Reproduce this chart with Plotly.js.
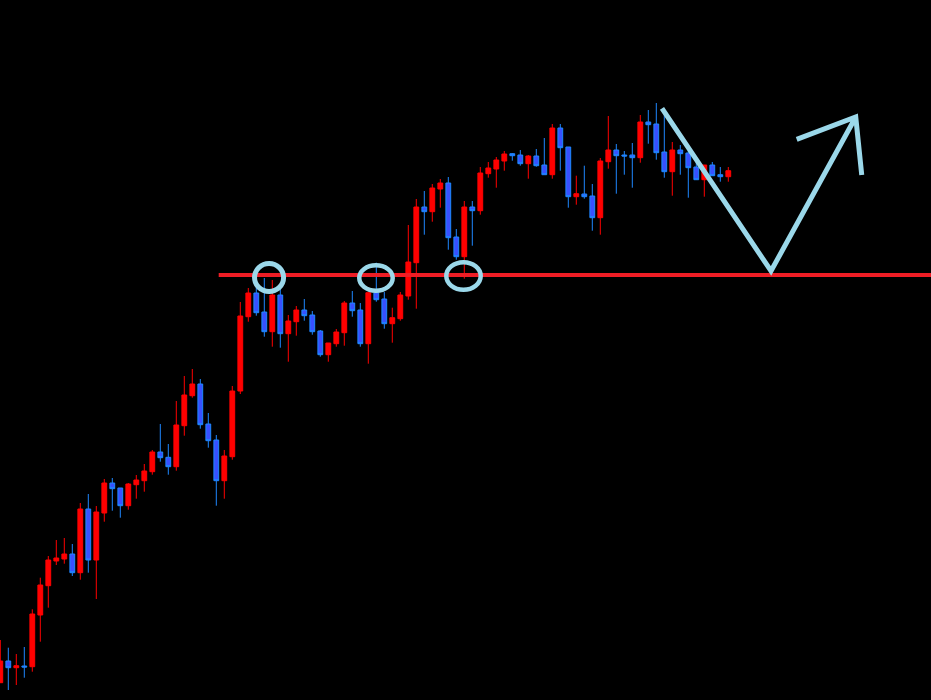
<!DOCTYPE html>
<html>
<head>
<meta charset="utf-8">
<script src="https://cdn.plot.ly/plotly-3.0.1.min.js"></script>
<style>html,body{margin:0;padding:0;background:#000;}#chart{width:931px;height:700px;}</style>
</head>
<body>
<div id="chart"></div>
<script>
// Bar index (one bar per period)
const bars = Array.from({length: 92}, (_, i) => i);
const open = [17.3,39,32.3,34,33.3,85,114.3,139,141,146,127.3,191,140,187,217,212,194.3,215.3,219.3,228.3,
  248,242.7,233.3,274.3,304.3,316,276,260,219.3,243.3,309,383.3,407,388,368.3,405,366.3,378.3,390,385,
  369,345.3,356.3,367.3,397,390,356.3,407.3,401,376.3,381.3,404,437.3,493,488.3,511,517,463,443.3,493,
  489.3,526.3,531,539,546.3,545,536.3,544,535,525.3,572,553,503.3,506,504,482.3,538.3,550,545,545,
  542.3,578,576,548,528.3,550,547,533,520.3,535,525.3,523.3];
const high = [60,52.3,46,53,90.7,122.3,144,160,162,156,197,206,194,221,222,212,217,225,236,250,
  276,256,299,324,331,321,287,265,250,314,398,412,417,422,420,411,385,394,401,389,
  370,357,371,399,409,397,408,437.3,408,392.3,408,475,501,509,516,521,523,471,499,499,
  533,538,543,549,547,550,545,551,562,576,576,553,524.3,534.3,516,542,584,556,549,557,
  585,590,597,585,558,555,549,538,535,538,533,533];
const low = [17,10,15,22.3,28.3,58.3,92.3,135,136.3,124,120.3,127.3,101,178.3,189.3,182.3,190.3,201.3,208.3,225.3,
  238.3,225.3,229.3,264.3,302.3,271.3,252.3,194.3,201.3,240.3,306,378.3,384.3,363.3,353.3,352.3,338.3,364.3,379.3,365.3,
  343.3,338.3,353.3,354.3,383.3,353.3,336.3,398.3,371.3,357.3,379.3,400.3,391.3,465.3,478.3,492.3,450.3,440.3,421.3,454.3,
  485.3,522.3,512.3,529.3,539.3,534.3,521.3,533.3,525.3,521.3,529.3,492.3,495.3,501.3,469.3,465.3,531.3,506.3,525.3,512.3,
  537.3,556.3,540.3,522.3,504.3,525.3,502.3,520,503.3,524.3,518.3,518.3];
const close = [39,32.3,34.3,33,86,115,140,142,146,127.3,191,140,188,217,211.3,194.3,216,220,229,248,
  242.3,233.3,275,305,316,275.3,259.3,219.3,244,309,384,407,387.3,368.3,405,366.3,379,390,384.3,368.3,
  345.3,357,368,397,389.3,356.3,407.3,400.3,376.3,382.3,405,438,493,488.3,512,517,462.3,443.3,493,489.3,
  527,532,540,546,544.3,536.3,544,534.3,525.3,572,552.3,503.3,506.3,503.3,482.3,539,550,544.3,544,542.3,
  578,575.3,547.3,528.3,550,546.3,532.3,520.3,535,524.3,523.3,529.3];

// Annotations (bar index / price units)
const supportLevel = 425;
const supportStartBar = 27.3;
const circleX0 = [31.78, 44.87, 55.75];
const circleX1 = [35.41, 49.05, 60.05];
const circleY0 = [408.5, 409.3, 410.3];
const circleY1 = [436.5, 434.7, 437.7];
const circleWidth = [5, 4.5, 4.5];
const pathX = [82.71, 96.34, 106.93];
const pathY = [591.7, 429, 583];
const headX = [99.55, 106.93, 107.68];
const headY = [560.7, 583, 525];

const ARROW = '#9BD8EA';
const shapes = [{
  type: 'line', xref: 'x', yref: 'y', layer: 'above',
  x0: supportStartBar, x1: 130, y0: supportLevel, y1: supportLevel,
  line: {color: '#EE1D25', width: 4}
}];
for (let i = 0; i < circleX0.length; i++) {
  shapes.push({type: 'circle', xref: 'x', yref: 'y', layer: 'above',
    x0: circleX0[i], x1: circleX1[i], y0: circleY0[i], y1: circleY1[i],
    line: {color: ARROW, width: circleWidth[i]}, fillcolor: 'rgba(0,0,0,0)'});
}
const pathStr = 'M' + pathX.map((x, i) => x + ',' + pathY[i]).join(' L') +
  ' M' + headX.map((x, i) => x + ',' + headY[i]).join(' L');
shapes.push({type: 'path', xref: 'x', yref: 'y', layer: 'above', path: pathStr,
  line: {color: ARROW, width: 5}});

const trace = {
  type: 'candlestick', x: bars, open: open, high: high, low: low, close: close,
  increasing: {line: {color: '#FF0000', width: 1}, fillcolor: '#FF0000'},
  decreasing: {line: {color: '#1E88FF', width: 1}, fillcolor: '#3850FF'},
  whiskerwidth: 0, hoverinfo: 'none'
};

const layout = {
  width: 931, height: 700,
  margin: {l: 0, r: 0, t: 0, b: 0},
  paper_bgcolor: '#000', plot_bgcolor: '#000',
  showlegend: false,
  boxgap: 0.4, boxgroupgap: 0,
  xaxis: {visible: false, range: [-0.0375, 116.3375], rangeslider: {visible: false}, fixedrange: true},
  yaxis: {visible: false, range: [0, 700], fixedrange: true},
  shapes: shapes
};
Plotly.newPlot('chart', [trace], layout, {staticPlot: true, displayModeBar: false});
</script>
</body>
</html>
